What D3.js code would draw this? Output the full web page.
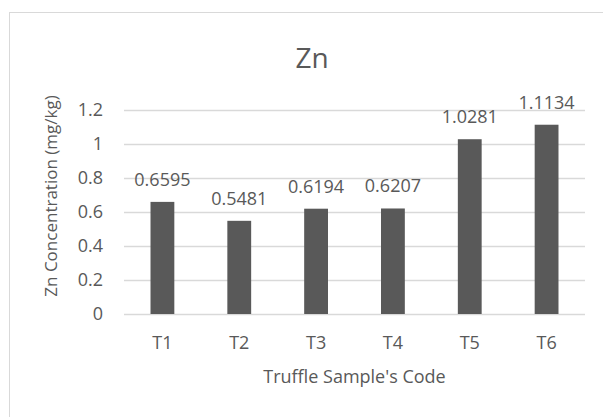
<!DOCTYPE html>
<html>
<head>
<meta charset="utf-8">
<script src="https://cdn.jsdelivr.net/npm/d3@7"></script>
<style>
  body { margin: 0; background: #fff; }
  text { font-family: "Open Sans", sans-serif; fill: #595959; }
</style>
</head>
<body>
<script>
// data
var categories = ["T1", "T2", "T3", "T4", "T5", "T6"];
var values = [0.6595, 0.5481, 0.6194, 0.6207, 1.0281, 1.1134];
var yTicks = [0, 0.2, 0.4, 0.6, 0.8, 1, 1.2];

var title = "Zn",
    xTitle = "Truffle Sample's Code",
    yTitle = "Zn Concentration (mg/kg)";

var width = 603,
    height = 417;

// plot area
var plot = { left: 124, right: 585, top: 110, bottom: 314 };

var svg = d3.select("body").append("svg")
    .attr("width", width)
    .attr("height", height);

// chart border (runs off the right/bottom edge like the screenshot)
svg.append("rect")
    .attr("x", 9.5)
    .attr("y", 12.5)
    .attr("width", 620)
    .attr("height", 420)
    .attr("fill", "none")
    .attr("stroke", "#d9d9d9");

var x = d3.scaleBand()
    .domain(categories)
    .range([plot.left, plot.right])
    .paddingInner(0.69)
    .paddingOuter(0.345);

var y = d3.scaleLinear()
    .domain([0, 1.2])
    .range([plot.bottom, plot.top]);

// y axis + gridlines
var yAxis = svg.append("g")
    .attr("transform", "translate(" + plot.left + ",0)")
    .call(d3.axisLeft(y)
        .tickValues(yTicks)
        .tickFormat(d3.format("~g"))
        .tickSize(-(plot.right - plot.left))
        .tickPadding(21));
yAxis.select(".domain").remove();
yAxis.selectAll("line").attr("stroke", "#d9d9d9").attr("stroke-width", 1.3);
yAxis.selectAll("text")
    .style("font-size", "18px")
    .style("font-family", "Open Sans, sans-serif")
    .attr("fill", "#595959");

// x axis labels
var xAxis = svg.append("g")
    .attr("transform", "translate(0," + plot.bottom + ")")
    .call(d3.axisBottom(x).tickSize(0).tickPadding(22));
xAxis.select(".domain").remove();
xAxis.selectAll("text")
    .style("font-size", "18px")
    .style("font-family", "Open Sans, sans-serif")
    .attr("fill", "#595959");

// bars
var data = categories.map(function (c, i) { return { cat: c, val: values[i] }; });

svg.selectAll(".bar")
    .data(data)
    .enter()
    .append("rect")
    .attr("class", "bar")
    .attr("x", function (d) { return x(d.cat); })
    .attr("y", function (d) { return y(d.val); })
    .attr("width", x.bandwidth())
    .attr("height", function (d) { return y(0) - y(d.val); })
    .attr("fill", "#595959");

// value labels
svg.selectAll(".val")
    .data(data)
    .enter()
    .append("text")
    .attr("class", "val")
    .attr("x", function (d) { return x(d.cat) + x.bandwidth() / 2; })
    .attr("y", function (d) { return y(d.val) - 16; })
    .attr("text-anchor", "middle")
    .style("font-size", "18px")
    .text(function (d) { return d3.format(".4f")(d.val); });

// titles
svg.append("text")
    .attr("x", 312)
    .attr("y", 68)
    .attr("text-anchor", "middle")
    .style("font-size", "28px")
    .text(title);

svg.append("text")
    .attr("x", (plot.left + plot.right) / 2)
    .attr("y", 383)
    .attr("text-anchor", "middle")
    .style("font-size", "18px")
    .text(xTitle);

svg.append("text")
    .attr("transform", "translate(57,196) rotate(-90)")
    .attr("text-anchor", "middle")
    .style("font-size", "17px")
    .text(yTitle);
</script>
</body>
</html>
